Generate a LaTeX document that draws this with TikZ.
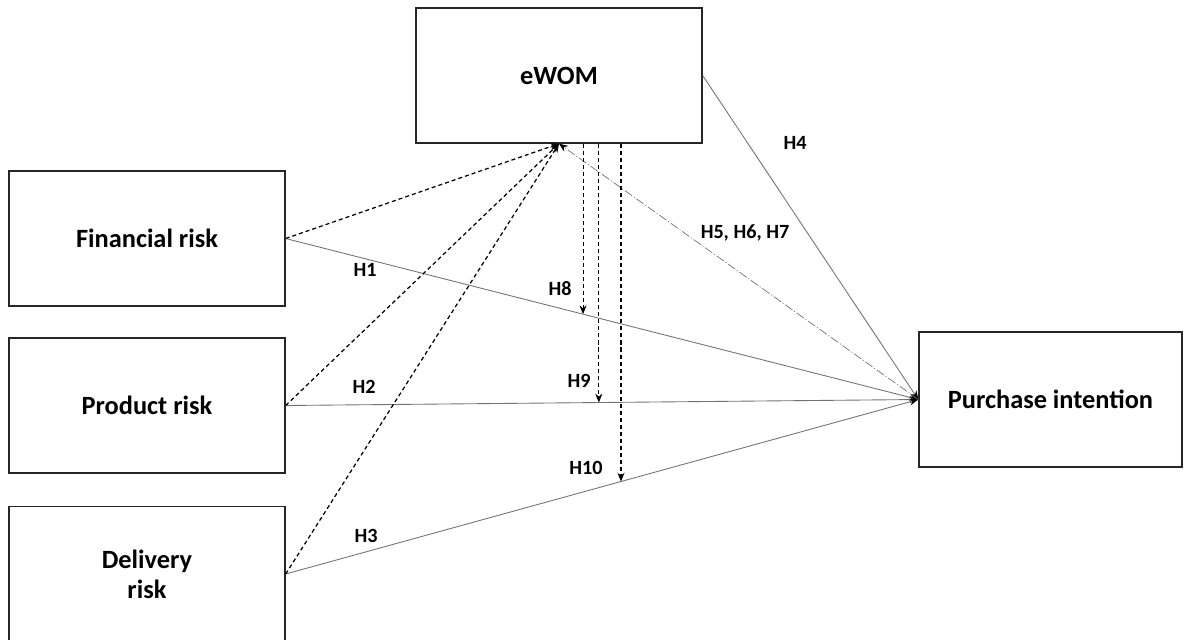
\documentclass[tikz,border=0pt]{standalone}
\usepackage{fontspec}
\setmainfont{Carlito}
\usetikzlibrary{arrows.meta}
\begin{document}
\begin{tikzpicture}[x=0.02cm, y=-0.02cm,
  box/.style={rectangle, draw=black!85, line width=0.8pt, minimum height=2.7cm,
              minimum width=#1, align=center, font=\fontsize{15}{17}\selectfont\bfseries},
  box/.default={5.52cm},
  lbl/.style={font=\fontsize{11.5}{13}\selectfont\bfseries},
  direct/.style={draw=black!55, line width=0.5pt, -{Stealth[length=5pt, width=4pt, black]}},
  med/.style={black, line width=0.7pt, dash pattern=on 2.3pt off 1.7pt, -{Stealth[length=5pt, width=4pt]}},
  mod/.style={black, line width=0.6pt, dash pattern=on 2.3pt off 1.7pt, -{Stealth[length=5pt, width=4pt]}},
  back/.style={draw=black!55, line width=0.4pt, dash pattern=on 5pt off 1.2pt on 0.6pt off 1.2pt,
               -{Stealth[length=5pt, width=4pt, black]}}
]
  \useasboundingbox (0,0) rectangle (1186,639);

  % Konstrukte
  \node[box=5.72cm] (ewom) at (559,75.5) {eWOM};
  \node[box] (fin) at (147,238.5) {Financial risk};
  \node[box] (prod) at (147,405.5) {Product risk};
  \node[box] (del) at (147,574) {Delivery\\risk};
  \node[box=5.26cm] (pi) at (1050.5,399.5) {Purchase intention};

  % Direkte Effekte
  \draw[direct] (fin.east) -- coordinate[pos=0.47] (m1) (pi.west);
  \draw[direct] (prod.east) -- coordinate[pos=0.495] (m2) (pi.west);
  \draw[direct] (del.east) -- coordinate[pos=0.53] (m3) (pi.west);
  \draw[direct] (ewom.east) -- (pi.west);
  \draw[back] (pi.west) -- (ewom.south);

  % Risiken -> eWOM
  \draw[med] (fin.east) -- (ewom.south);
  \draw[med] (prod.east) -- (ewom.south);
  \draw[med] (del.east) -- (ewom.south);

  % Moderation
  \draw[mod] (ewom.south -| m1) -- (m1);
  \draw[mod] (ewom.south -| m2) -- (m2);
  \draw[mod] (ewom.south -| m3) -- (m3);

  % Hypothesen
  \node[lbl] (h1) at (365,270) {H1};
  \node[lbl] (h2) at (364,387) {H2};
  \node[lbl] (h3) at (366,536) {H3};
  \node[lbl] (h4) at (795,143) {H4};
  \node[lbl] (h567) at (745,233) {H5, H6, H7};
  \node[lbl] (h8) at (560,289) {H8};
  \node[lbl] (h9) at (579,381) {H9};
  \node[lbl] (h10) at (586,468) {H10};
\end{tikzpicture}
\end{document}
